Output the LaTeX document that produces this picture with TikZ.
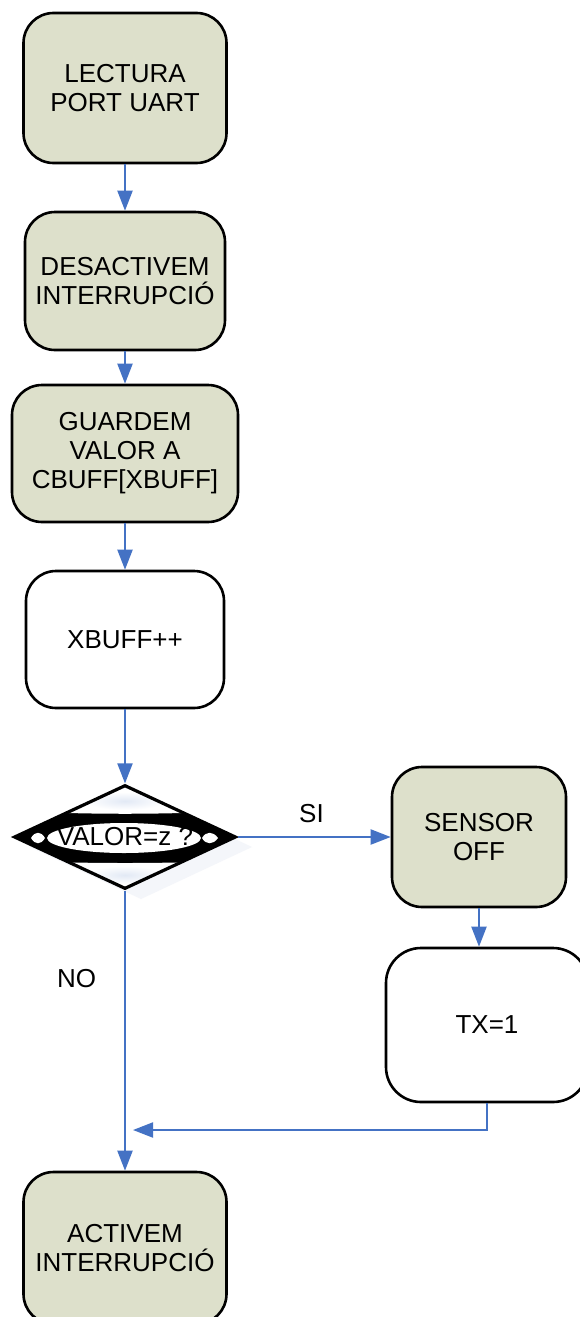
\documentclass[tikz,border=0pt]{standalone}
\usepackage{fontspec}
\setmainfont{Liberation Sans}
\usetikzlibrary{shapes.geometric,arrows.meta,calc}
\definecolor{boxfill}{RGB}{221,224,203}
\definecolor{flow}{RGB}{68,114,196}
\definecolor{haze}{RGB}{244,246,250}
\definecolor{tint}{RGB}{226,233,245}
\begin{document}
\begin{tikzpicture}[x=1pt,y=-1pt,
  txt/.style={font=\fontsize{26}{29}\selectfont, align=center},
  stepbox/.style={txt, draw=black, line width=2.6pt, rounded corners=30pt,
                  fill=boxfill, inner sep=0pt},
  plainbox/.style={stepbox, fill=white},
  flowline/.style={draw=flow, line width=2pt},
  flowarrow/.style={flowline, -{Triangle[length=20pt,width=15pt]}}]
\useasboundingbox (0,0) rectangle (579,1317);
\fill[white] (0,0) rectangle (579,1317);

% left column of steps
\node[stepbox, minimum width=203pt, minimum height=150pt] (read) at (125,88) {LECTURA\\PORT UART};
\node[stepbox, minimum width=200pt, minimum height=138pt] (off) at (125,281) {DESACTIVEM\\INTERRUPCIÓ};
\node[stepbox, minimum width=226pt, minimum height=137pt] (store) at (125,453.5) {GUARDEM\\VALOR A\\CBUFF[XBUFF]};
\node[plainbox, minimum width=198pt, minimum height=137pt] (inc) at (125,639.5) {XBUFF++};

% decision: faint shadow and banded fill, then the outline
\fill[haze] (141,795) -- (252,847) -- (141,899) -- (30,847) -- cycle;
\begin{scope}
  \clip (125,785) -- (236,837) -- (125,889) -- (14,837) -- cycle;
  \fill[black] (0,780) rectangle (250,895);
  \fill[white] (0,780) -- (250,780) -- (250,810) .. controls (170,815) and (80,815) .. (0,810) -- cycle;
  \fill[white] (0,895) -- (250,895) -- (250,860) .. controls (170,864) and (80,864) .. (0,860) -- cycle;
  \shade[inner color=tint, outer color=white] (125,801) ellipse [x radius=40pt, y radius=9pt];
  \shade[inner color=tint, outer color=white] (125,875) ellipse [x radius=40pt, y radius=9pt];
  \fill[white] (124,838) ellipse [x radius=77pt, y radius=15pt];
  \fill[white] (31,838) .. controls (35,831) and (41,831) .. (45,838)
                        .. controls (41,845) and (35,845) .. (31,838) -- cycle;
  \fill[white] (202,838) .. controls (206,831) and (213,831) .. (218,838)
                         .. controls (213,845) and (206,845) .. (202,838) -- cycle;
\end{scope}
\node[draw=black, line width=3.2pt, diamond, shape aspect=2.1, inner sep=0pt,
      minimum width=222pt, minimum height=104pt, txt] (dec) at (125,837) {VALOR=z ?};

% right branch
\node[stepbox, minimum width=174pt, minimum height=140pt] (sensor) at (479,837) {SENSOR\\OFF};
\node[plainbox, minimum width=202pt, minimum height=154pt, rounded corners=35pt] (tx) at (487,1025) {TX=1};

% final step
\node[stepbox, minimum width=203pt, minimum height=152pt] (on) at (125,1248) {ACTIVEM\\INTERRUPCIÓ};

% labels
\node[txt] (si) at (311.5,813.5) {SI};
\node[txt] (no) at (76.5,978.5) {NO};

% connectors
\coordinate (back) at (133,1130);
\draw[flowarrow] (read.south) -- (read.south |- off.north);
\draw[flowarrow] (off.south) -- (off.south |- store.north);
\draw[flowarrow] (store.south) -- (store.south |- inc.north);
\draw[flowarrow] (inc.south) -- (dec.north);
\draw[flowarrow] (dec.east) -- (sensor.west);
\draw[flowarrow] (sensor.south) -- (sensor.south |- tx.north);
\draw[flowarrow] (tx.south) |- (back);
\draw[flowarrow] (dec.south) -- (dec.south |- on.north);
\end{tikzpicture}
\end{document}
